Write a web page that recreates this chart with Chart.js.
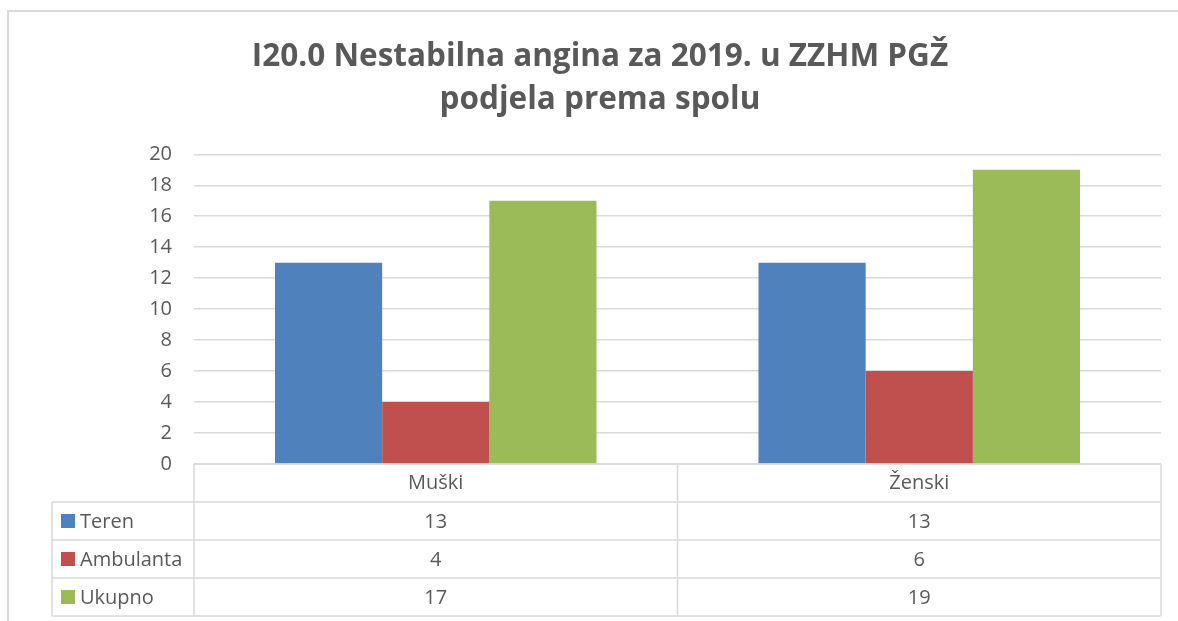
<!DOCTYPE html>
<html>
<head>
<meta charset="utf-8">
<script src="https://cdn.jsdelivr.net/npm/chart.js@4.4.0/dist/chart.umd.min.js"></script>
<style>
  html, body { margin: 0; padding: 0; background: #fff; overflow: hidden; }
  #frame {
    position: absolute; left: 7px; top: 10px; width: 1200px; height: 640px;
    border-left: 2px solid #d9d9d9; border-top: 2px solid #d9d9d9;
  }
  #wrap { position: absolute; left: 8px; top: 11px; width: 1184px; height: 620px; }
</style>
</head>
<body>
<div id="frame"></div>
<div id="wrap"><canvas id="chart"></canvas></div>
<script>
// categories and series
const categories = ["Muški", "Ženski"];
const teren = [13, 13];
const ambulanta = [4, 6];
const ukupno = [17, 19];

const seriesNames = ["Teren", "Ambulanta", "Ukupno"];
const seriesColors = ["#4f81bd", "#c0504d", "#9bbb59"];

const textColor = "#595959";
const lineColor = "#d9d9d9";
const fontFamily = "'Open Sans', sans-serif";

// draws the data table under the plot (Excel style)
const dataTablePlugin = {
  id: "dataTable",
  afterDraw(chart) {
    const ctx = chart.ctx;
    const area = chart.chartArea;
    const xs = chart.scales.x;
    const rowH = 38;
    const leftX = 44;
    const top = area.bottom;
    const catW = (area.right - area.left) / categories.length;

    ctx.save();
    ctx.strokeStyle = lineColor;
    ctx.lineWidth = 1.5;

    // horizontal lines
    for (let r = 0; r <= 4; r++) {
      const y = top + r * rowH;
      ctx.beginPath();
      ctx.moveTo(r === 0 ? area.left : leftX, y);
      ctx.lineTo(area.right, y);
      ctx.stroke();
    }
    // vertical lines
    ctx.beginPath();
    ctx.moveTo(leftX, top + rowH);
    ctx.lineTo(leftX, top + 4 * rowH);
    ctx.stroke();
    for (let c = 0; c <= categories.length; c++) {
      const x = area.left + c * catW;
      ctx.beginPath();
      ctx.moveTo(x, top);
      ctx.lineTo(x, top + 4 * rowH);
      ctx.stroke();
    }

    ctx.font = "20px " + fontFamily;
    ctx.fillStyle = textColor;
    ctx.textBaseline = "middle";
    ctx.textAlign = "center";
    categories.forEach((cat, i) => {
      ctx.fillText(cat, xs.getPixelForValue(i), top + rowH / 2);
    });

    chart.data.datasets.forEach((ds, r) => {
      const cy = top + (r + 1) * rowH + rowH / 2;
      ctx.fillStyle = ds.backgroundColor;
      ctx.fillRect(leftX + 9, cy - 7, 14, 14);
      ctx.fillStyle = textColor;
      ctx.textAlign = "left";
      ctx.fillText(ds.label, leftX + 28, cy + 1);
      ctx.textAlign = "center";
      ds.data.forEach((v, i) => {
        ctx.fillText(String(v), xs.getPixelForValue(i), cy + 1);
      });
    });
    ctx.restore();
  }
};

new Chart(document.getElementById("chart"), {
  type: "bar",
  data: {
    labels: categories,
    datasets: [
      { label: seriesNames[0], data: teren, backgroundColor: seriesColors[0] },
      { label: seriesNames[1], data: ambulanta, backgroundColor: seriesColors[1] },
      { label: seriesNames[2], data: ukupno, backgroundColor: seriesColors[2] },
    ],
  },
  options: {
    responsive: true,
    maintainAspectRatio: false,
    animation: false,
    datasets: { bar: { categoryPercentage: 0.665, barPercentage: 1.0 } },
    layout: { padding: { left: 0, right: 0, top: 0, bottom: 167 } },
    plugins: {
      legend: { display: false },
      tooltip: { enabled: false },
      title: {
        display: true,
        text: ["I20.0 Nestabilna angina za 2019. u ZZHM PGŽ", "podjela prema spolu"],
        color: textColor,
        font: { family: fontFamily, size: 31.5, weight: "bold", lineHeight: 1.37 },
        padding: { top: 24, bottom: 33 },
      },
    },
    scales: {
      x: { display: false },
      y: {
        min: 0,
        max: 20,
        ticks: { stepSize: 2, color: textColor, padding: 22, font: { family: fontFamily, size: 20 } },
        grid: { color: lineColor, lineWidth: 1.5, drawTicks: false },
        border: { display: false },
        afterFit(scale) { scale.width = 186; },
      },
      // empty right margin so the title centres like the original
      yRight: {
        position: "right",
        ticks: { display: false },
        grid: { display: false, drawTicks: false },
        border: { display: false },
        afterFit(scale) { scale.width = 31; },
      },
    },
  },
  plugins: [dataTablePlugin],
});
</script>
</body>
</html>
